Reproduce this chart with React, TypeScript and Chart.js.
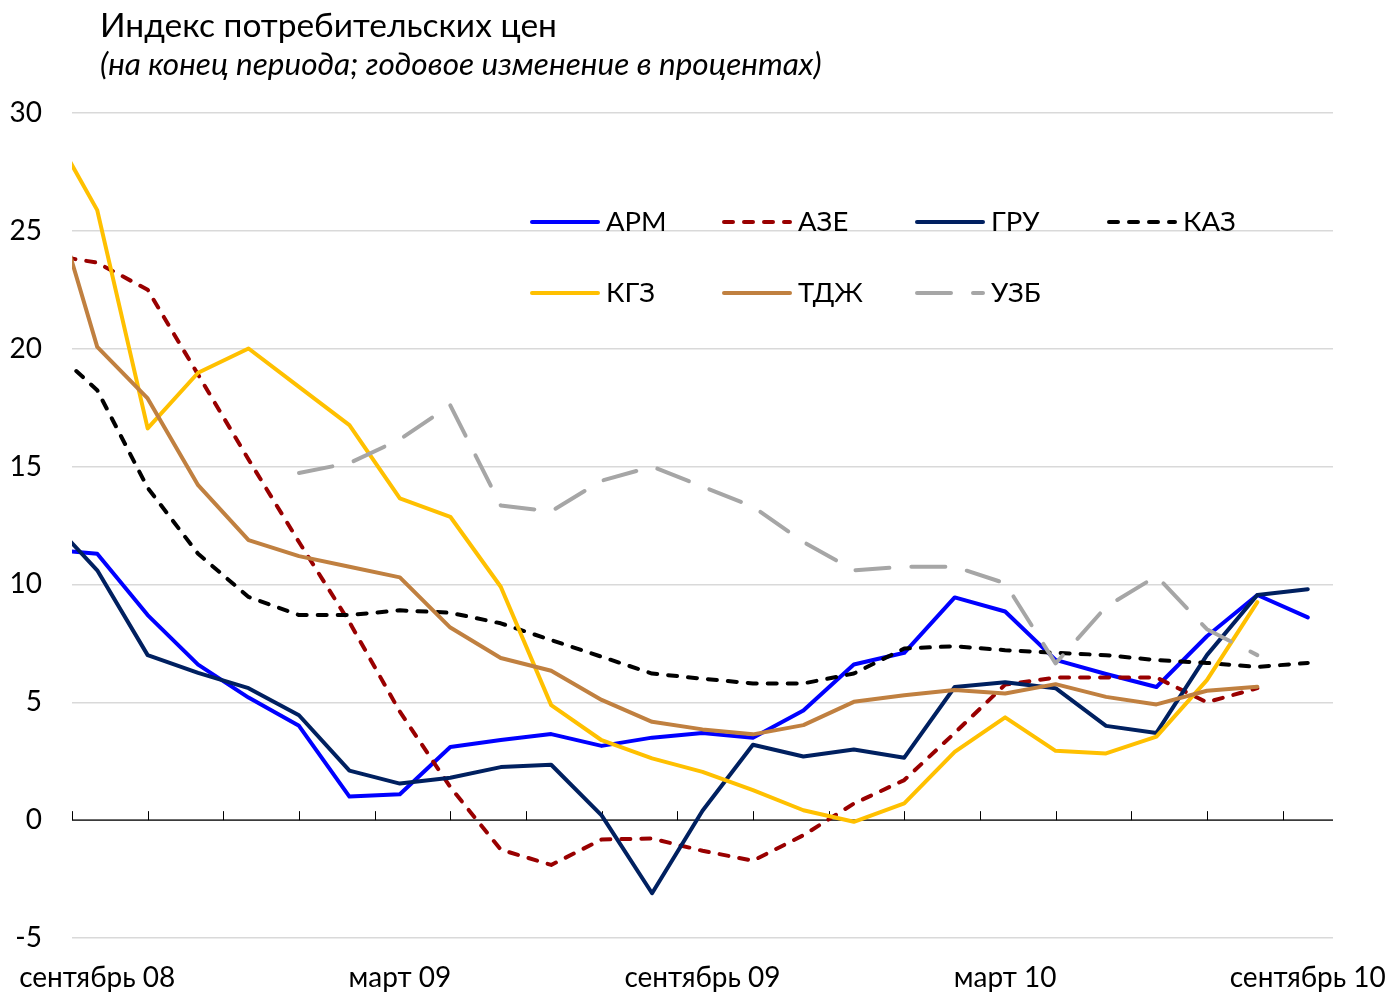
import React, { useEffect, useRef } from 'react';
import { Chart, registerables } from 'chart.js';
Chart.register(...registerables);

// Months: index 0 = август 08 (only partly visible at the left edge), index 1 = сентябрь 08 ...
const months = [
  'август 08', 'сентябрь 08', 'октябрь 08', 'ноябрь 08', 'декабрь 08', 'январь 09', 'февраль 09',
  'март 09', 'апрель 09', 'май 09', 'июнь 09', 'июль 09', 'август 09', 'сентябрь 09',
  'октябрь 09', 'ноябрь 09', 'декабрь 09', 'январь 10', 'февраль 10', 'март 10', 'апрель 10',
  'май 10', 'июнь 10', 'июль 10', 'август 10', 'сентябрь 10',
];
const labelMonths = [1, 7, 13, 19, 25];
const yTicks = [-5, 0, 5, 10, 15, 20, 25, 30];

const title = 'Индекс потребительских цен';
const subtitle = '(на конец периода; годовое изменение в процентах)';

const seriesNames = ['АРМ', 'АЗЕ', 'ГРУ', 'КАЗ', 'КГЗ', 'ТДЖ', 'УЗБ'];

const ARM = [11.5, 11.3, 8.7, 6.6, 5.2, 4.0, 1.0, 1.1, 3.1, 3.4, 3.65, 3.15, 3.5, 3.7, 3.5, 4.65, 6.6, 7.1, 9.45, 8.85, 6.8, 6.2, 5.65, 7.8, 9.55, 8.6];
const AZE = [24.0, 23.65, 22.5, 18.9, 15.3, 11.8, 8.4, 4.6, 1.4, -1.25, -1.9, -0.82, -0.78, -1.3, -1.72, -0.64, 0.7, 1.7, 3.7, 5.75, 6.05, 6.05, 6.05, 5.0, 5.6, null];
const GRU = [12.9, 10.6, 7.0, 6.25, 5.6, 4.45, 2.1, 1.55, 1.8, 2.25, 2.35, 0.2, -3.1, 0.4, 3.2, 2.7, 3.0, 2.65, 5.65, 5.85, 5.6, 4.0, 3.7, 7.0, 9.55, 9.8];
const KAZ = [20.2, 18.24, 14.1, 11.3, 9.47, 8.7, 8.7, 8.9, 8.8, 8.35, 7.64, 6.93, 6.22, 6.0, 5.8, 5.8, 6.22, 7.28, 7.38, 7.21, 7.1, 7.0, 6.79, 6.67, 6.5, 6.67];
const KGZ = [29.7, 25.88, 16.62, 18.98, 20.01, 18.38, 16.76, 13.65, 12.87, 9.9, 4.88, 3.39, 2.62, 2.05, 1.27, 0.42, -0.07, 0.71, 2.9, 4.36, 2.94, 2.83, 3.54, 5.94, 9.25, null];
const TDJ = [27.3, 20.08, 17.89, 14.21, 11.88, 11.2, 10.75, 10.3, 8.17, 6.88, 6.34, 5.1, 4.17, 3.85, 3.64, 4.03, 5.02, 5.3, 5.52, 5.37, 5.77, 5.23, 4.91, 5.49, 5.66, null];
const UZB = [null, null, null, null, null, 14.73, 15.15, 16.15, 17.6, 13.35, 13.1, 14.4, 15.0, 14.15, 13.3, 11.8, 10.6, 10.75, 10.75, 10.05, 6.65, 9.05, 10.35, 8.1, 7.0, null];

const seriesValues = [ARM, AZE, GRU, KAZ, KGZ, TDJ, UZB];
const seriesColors = ['#0000FF', '#990000', '#002060', '#000000', '#FFC000', '#C08040', '#A6A6A6'];
const seriesDash: number[][] = [[], [9, 11], [], [9, 11], [], [], [34, 22]];

const FONT = 'Lato, "Noto Sans", sans-serif';

const overlay = {
  id: 'overlay',
  beforeDatasetsDraw(chart: any) {
    const { ctx, chartArea, scales } = chart;
    const xs = scales.x;
    const y0 = scales.y.getPixelForValue(0);
    ctx.save();
    ctx.strokeStyle = '#000';
    ctx.lineWidth = 1.3;
    ctx.beginPath();
    ctx.moveTo(chartArea.left, y0);
    ctx.lineTo(chartArea.right, y0);
    ctx.stroke();
    ctx.lineWidth = 1;
    for (let v = -0.5; v < 24.4; v += 1.5) {
      const px = Math.round(xs.getPixelForValue(v)) + 0.5;
      ctx.beginPath();
      ctx.moveTo(px, y0);
      ctx.lineTo(px, y0 - 9);
      ctx.stroke();
    }
    ctx.restore();
  },
  afterDraw(chart: any) {
    const { ctx, scales } = chart;
    ctx.save();
    ctx.fillStyle = '#000';
    ctx.textAlign = 'left';
    ctx.textBaseline = 'alphabetic';
    ctx.font = `33.5px ${FONT}`;
    ctx.fillText(title, 100, 37);
    ctx.font = `italic 31.5px ${FONT}`;
    ctx.fillText(subtitle, 100, 75);

    // x-axis category labels
    ctx.textAlign = 'center';
    ctx.textBaseline = 'middle';
    ctx.font = `28px ${FONT}`;
    labelMonths.forEach((j) => {
      ctx.fillText(months[j], scales.x.getPixelForValue(j - 1), 978);
    });

    // legend
    ctx.textAlign = 'left';
    const cols = [530, 722, 915, 1107];
    const rows = [222, 293];
    seriesNames.forEach((name, i) => {
      const x = cols[i % 4];
      const y = rows[Math.floor(i / 4)];
      ctx.strokeStyle = seriesColors[i];
      ctx.lineWidth = 4;
      ctx.lineCap = 'round';
      ctx.setLineDash(seriesDash[i]);
      ctx.beginPath();
      ctx.moveTo(x + 2, y);
      ctx.lineTo(x + 68, y);
      ctx.stroke();
      ctx.setLineDash([]);
      ctx.font = `27.5px ${FONT}`;
      ctx.fillStyle = '#000';
      ctx.fillText(name, x + 76, y);
    });
    ctx.restore();
  },
};

export default function App() {
  const ref = useRef<HTMLCanvasElement>(null);
  useEffect(() => {
    const canvas = ref.current!;
    const datasets = seriesNames.map((name, i) => ({
      label: name,
      data: seriesValues[i].map((v, j) => ({ x: j - 1, y: v })),
      borderColor: seriesColors[i],
      backgroundColor: seriesColors[i],
      borderWidth: 4,
      borderDash: seriesDash[i],
      borderCapStyle: 'round',
      borderJoinStyle: 'round',
      pointRadius: 0,
      tension: 0,
      fill: false,
      spanGaps: false,
      clip: 0,
      order: 10 - i,
    }));
    const chart = new Chart(canvas, {
      type: 'line',
      data: { datasets } as any,
      options: {
        animation: false,
        responsive: false,
        layout: { padding: { top: 113, right: 60, left: 0, bottom: 0 } },
        plugins: { legend: { display: false }, tooltip: { enabled: false }, title: { display: false } },
        scales: {
          x: {
            type: 'linear',
            min: -0.5,
            max: 24.5,
            ticks: { display: false },
            grid: { display: false, drawTicks: false },
            border: { display: false },
            afterFit: (s: any) => {
              s.height = 58;
            },
          },
          y: {
            min: -5,
            max: 30,
            afterBuildTicks: (s: any) => {
              s.ticks = yTicks.map((v) => ({ value: v }));
            },
            ticks: { font: { family: FONT, size: 28 }, color: '#000', padding: 30 },
            grid: { color: '#D9D9D9', lineWidth: 1.5, drawTicks: false },
            border: { display: false },
            afterFit: (s: any) => {
              s.width = 72;
            },
          },
        },
      } as any,
      plugins: [overlay],
    });
    return () => chart.destroy();
  }, []);
  return (
    <div style={{ position: 'absolute', left: 0, top: 0, width: 1393, height: 996, background: '#fff' }}>
      <canvas ref={ref} width={1393} height={996} style={{ display: 'block' }} />
    </div>
  );
}
